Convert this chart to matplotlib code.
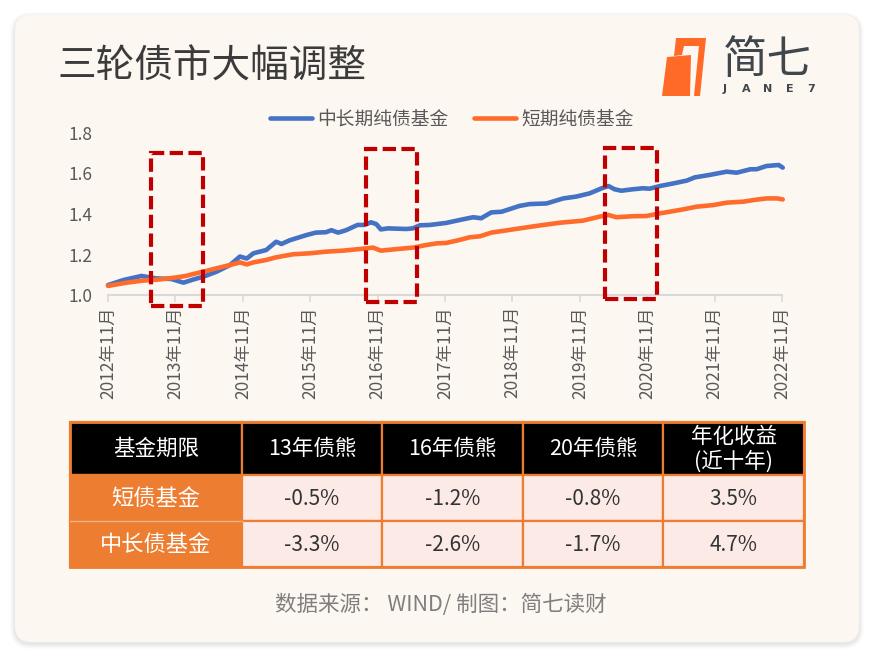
import matplotlib
matplotlib.use("Agg")
import matplotlib.pyplot as plt
import matplotlib.dates as mdates
from matplotlib.patches import FancyBboxPatch, Rectangle, Polygon
import pandas as pd

plt.rcParams['font.family'] = ['Noto Sans CJK SC', 'DejaVu Sans']

# ---------------- data ----------------
title = "三轮债市大幅调整"
series_names = ["中长期纯债基金", "短期纯债基金"]

blue_dates = ["2012-11-01","2013-01-24","2013-05-01","2013-07-22","2013-10-10","2013-12-15","2014-02-08",
              "2014-03-31","2014-06-12","2014-08-24","2014-10-17","2014-11-23","2014-12-29","2015-03-08",
              "2015-05-01","2015-05-30","2015-07-13","2015-10-12","2015-12-02","2016-01-26","2016-02-24",
              "2016-04-01","2016-05-14","2016-07-15","2016-08-21","2016-09-26","2016-10-25","2016-11-18",
              "2016-12-27","2017-04-05","2017-05-11","2017-06-17","2017-08-11","2017-11-08","2018-02-07",
              "2018-04-03","2018-05-16","2018-07-10","2018-09-03","2018-12-10","2019-02-03","2019-05-05",
              "2019-08-04","2019-10-13","2019-12-25","2020-02-28","2020-04-05","2020-05-08","2020-06-13",
              "2020-08-14","2020-10-08","2020-11-14","2021-01-08","2021-03-22","2021-06-03","2021-07-17",
              "2021-10-05","2022-01-05","2022-03-01","2022-05-14","2022-06-16","2022-08-09","2022-10-14",
              "2022-11-05"]
blue_vals = [1.049,1.074,1.094,1.082,1.079,1.061,1.077,1.090,1.115,1.148,1.190,1.180,1.206,1.222,
             1.263,1.252,1.270,1.296,1.308,1.310,1.320,1.308,1.320,1.346,1.346,1.359,1.350,1.324,
             1.329,1.326,1.329,1.344,1.346,1.356,1.374,1.384,1.379,1.408,1.411,1.440,1.449,1.452,
             1.477,1.486,1.502,1.527,1.538,1.522,1.515,1.522,1.527,1.525,1.538,1.551,1.565,1.581,
             1.593,1.609,1.604,1.621,1.621,1.637,1.642,1.629]

orange_dates = ["2012-11-01","2013-02-11","2013-05-08","2013-08-10","2013-11-08","2014-01-01","2014-02-08",
                "2014-03-31","2014-06-12","2014-08-24","2014-10-17","2014-11-23","2014-12-29","2015-03-08",
                "2015-05-01","2015-07-31","2015-11-01","2016-01-26","2016-04-26","2016-07-27","2016-10-07",
                "2016-11-18","2017-01-23","2017-05-11","2017-07-24","2017-09-17","2017-11-08","2018-01-20",
                "2018-03-15","2018-05-10","2018-07-10","2018-11-04","2019-03-11","2019-07-17","2019-11-18",
                "2020-02-17","2020-04-05","2020-05-19","2020-08-14","2020-10-27","2021-01-08","2021-05-16",
                "2021-07-25","2021-10-24","2022-01-05","2022-04-06","2022-05-31","2022-08-09","2022-10-06",
                "2022-11-05"]
orange_vals = [1.045,1.061,1.071,1.077,1.087,1.095,1.104,1.115,1.132,1.148,1.161,1.151,1.161,1.173,
               1.186,1.201,1.206,1.214,1.219,1.227,1.234,1.219,1.225,1.234,1.247,1.255,1.257,1.272,
               1.285,1.290,1.308,1.324,1.341,1.357,1.367,1.387,1.395,1.384,1.389,1.390,1.403,1.423,
               1.436,1.444,1.456,1.461,1.469,1.477,1.477,1.472]

tick_dates = ["%d-11-01" % y for y in range(2012, 2023)]
tick_labels = ["%d年11月" % y for y in range(2012, 2023)]
y_ticks = [1.0, 1.2, 1.4, 1.6, 1.8]

# highlighted bear-market windows (start, end, low, high)
box_starts = ["2013-06-20", "2016-08-29", "2020-03-17"]
box_ends = ["2014-03-30", "2017-06-01", "2020-12-23"]
box_lows = [0.946, 0.965, 0.980]
box_highs = [1.700, 1.720, 1.726]

table_header = ["基金期限", "13年债熊", "16年债熊", "20年债熊", "年化收益\n(近十年)"]
table_rows = ["短债基金", "中长债基金"]
table_values = [["-0.5%", "-1.2%", "-0.8%", "3.5%"],
                ["-3.3%", "-2.6%", "-1.7%", "4.7%"]]
footer = "数据来源： WIND/ 制图：简七读财"

# ---------------- colours ----------------
BLUE = "#4472C4"
ORANGE = "#FF6B2B"
TORANGE = "#ED7D31"
CARD = "#FDF7F1"
DARKRED = "#C00000"

W, H = 875, 656
fig = plt.figure(figsize=(W / 100, H / 100), dpi=100)
fig.patch.set_facecolor("white")

bg = fig.add_axes([0, 0, 1, 1])
bg.set_xlim(0, W)
bg.set_ylim(H, 0)
bg.axis("off")
bg.set_zorder(0)

# shadow + card
for i, a in enumerate([0.025, 0.03, 0.035, 0.04, 0.05]):
    grow = 5 - i
    bg.add_patch(FancyBboxPatch((15 - grow, 15 - grow + 2), 844 + 2 * grow, 627 + 2 * grow,
                                boxstyle="round,pad=0,rounding_size=%d" % (16 + grow),
                                fc="#808080", ec="none", alpha=a))
bg.add_patch(FancyBboxPatch((15, 15), 844, 627, boxstyle="round,pad=0,rounding_size=16",
                            fc=CARD, ec="none"))

# title
bg.text(57, 67, title, fontsize=27.8, color="#3B3B3B", va="center", ha="left")

# logo
bg.add_patch(Polygon([(662, 96), (667, 57), (691, 55), (690, 96)], closed=True, fc="#FF6A26", ec="none"))
bg.add_patch(Polygon([(676, 38), (706, 38), (700, 96), (694, 96), (699, 46), (684, 46), (682, 55), (674, 56)],
                     closed=True, fc="#FF6A26", ec="none"))
bg.text(767, 60, "简七", fontsize=32, color="#3F464C", ha="center", va="center")
for i, ch in enumerate("JANE7"):
    bg.text(725 + i * 21.5, 89, ch, fontsize=8, fontweight="bold", color="#3F464C",
            ha="center", va="center", family="DejaVu Sans")

# ---------------- chart ----------------
ax = fig.add_axes([108 / W, 1 - 295 / H, (782 - 108) / W, (295 - 133) / H])
ax.set_zorder(2)
ax.patch.set_alpha(0)

bd = pd.to_datetime(blue_dates)
od = pd.to_datetime(orange_dates)
ax.plot(bd, blue_vals, color=BLUE, lw=3.3, solid_capstyle="round", solid_joinstyle="round",
        label=series_names[0], clip_on=False, zorder=3)
ax.plot(od, orange_vals, color=ORANGE, lw=3.3, solid_capstyle="round", solid_joinstyle="round",
        label=series_names[1], clip_on=False, zorder=4)

for s, e, lo, hi in zip(box_starts, box_ends, box_lows, box_highs):
    x0 = mdates.date2num(pd.Timestamp(s))
    x1 = mdates.date2num(pd.Timestamp(e))
    ax.add_patch(Rectangle((x0, lo), x1 - x0, hi - lo, fill=False, ec=DARKRED, lw=3.0,
                           ls=(0, (3.2, 1.3)), clip_on=False, zorder=5))

td = pd.to_datetime(tick_dates)
ax.set_xlim(mdates.date2num(td[0]), mdates.date2num(td[-1]))
ax.set_ylim(1.0, 1.8)
ax.set_xticks(mdates.date2num(td))
ax.set_xticklabels(tick_labels, rotation=90, fontsize=12.5, color="#595959")
ax.set_yticks(y_ticks)
ax.set_yticklabels(["%.1f" % v for v in y_ticks], fontsize=12.5, color="#595959")
ax.tick_params(axis="x", length=5, width=1.2, color="#D9D9D9", pad=3)
ax.tick_params(axis="y", length=0, pad=11)
for sp in ["top", "right", "left"]:
    ax.spines[sp].set_visible(False)
ax.spines["bottom"].set_color("#D9D9D9")
ax.spines["bottom"].set_linewidth(1.5)

leg = ax.legend(loc="center", bbox_to_anchor=(0.51, 1.086), ncol=2, frameon=False,
                fontsize=13.5, handlelength=2.25, handletextpad=0.25, columnspacing=1.4,
                borderaxespad=0, labelcolor="#595959")

# ---------------- table ----------------
col_x = [70, 242, 382, 523, 663, 804]
row_y = [422, 475, 521, 567]

for c in range(5):
    x0, x1 = col_x[c], col_x[c + 1]
    bg.add_patch(Rectangle((x0, row_y[0]), x1 - x0, row_y[1] - row_y[0], fc="black", ec=TORANGE, lw=1.6))
    txt = table_header[c]
    if "\n" in txt:
        l1, l2 = txt.split("\n")
        bg.text((x0 + x1) / 2, 437, l1, color="white", fontsize=15.5, ha="center", va="center")
        bg.text((x0 + x1) / 2, 462, l2, color="white", fontsize=15.5, ha="center", va="center")
    else:
        bg.text((x0 + x1) / 2, (row_y[0] + row_y[1]) / 2, txt, color="white", fontsize=15.5,
                ha="center", va="center")

for r in range(2):
    y0, y1 = row_y[r + 1], row_y[r + 2]
    bg.add_patch(Rectangle((col_x[0], y0), col_x[1] - col_x[0], y1 - y0, fc=TORANGE, ec=TORANGE, lw=1.6))
    bg.text((col_x[0] + col_x[1]) / 2, (y0 + y1) / 2, table_rows[r], color="white", fontsize=16,
            ha="center", va="center")
    for c in range(4):
        x0, x1 = col_x[c + 1], col_x[c + 2]
        bg.add_patch(Rectangle((x0, y0), x1 - x0, y1 - y0, fc="#FBEAE5", ec=TORANGE, lw=1.6))
        bg.text((x0 + x1) / 2, (y0 + y1) / 2 + 1, table_values[r][c], color="#333333", fontsize=15,
                ha="center", va="center")
bg.plot([col_x[0], col_x[1]], [row_y[2], row_y[2]], color="#F4B183", lw=1.0)
bg.add_patch(Rectangle((col_x[0], row_y[0]), col_x[-1] - col_x[0], row_y[-1] - row_y[0],
                       fill=False, ec=TORANGE, lw=2.0))

# footer
bg.text(441, 605, footer, fontsize=15.5, color="#7F7F7F", ha="center", va="center")

fig.savefig("out.png", dpi=100, facecolor=fig.get_facecolor())
